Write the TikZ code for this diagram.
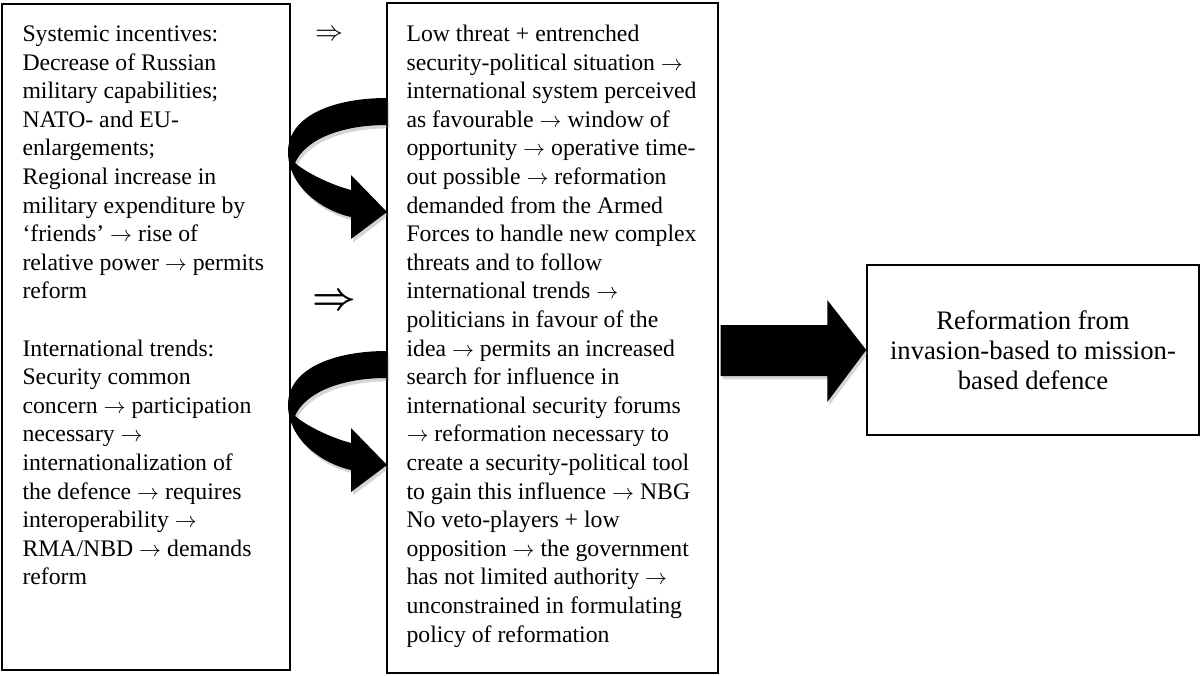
\RequirePackage{fix-cm}
\documentclass[tikz,border=0pt]{standalone}
\usepackage{fontspec}
\setmainfont{Liberation Serif}
\usetikzlibrary{positioning,calc,shadows}
\tikzset{>=latex}
\colorlet{shadowgrey}{black!55}
\tikzstyle{box}=[draw, line width=1.1pt, inner sep=0pt]
\newcommand{\ra}{{\fontsize{16.5}{16.5}\selectfont$\rightarrow$}}

\begin{document}
\begin{tikzpicture}[x=0.75pt, y=-0.75pt, txt/.style={inner sep=0pt, align=left, anchor=north west, font=\fontsize{17.8}{21.45}\selectfont}, blockarrow/.style={fill=black, drop shadow={shadow xshift=1.5pt, shadow yshift=-2.5pt, opacity=0.3, fill=shadowgrey}}, imply/.style={inner sep=0pt}]

    \useasboundingbox (0,0) rectangle (1203,675);

    % Boxes
    \node[box, minimum width=216pt, minimum height=499.5pt] (sys) at (146,337) {};
    \node[box, minimum width=248.25pt, minimum height=502.5pt] (mid) at (552.5,338) {};
    \node[box, minimum width=249pt, minimum height=127.5pt, align=center, font=\fontsize{20}{22.5}\selectfont] (res) at (1033,350) {Reformation from\\invasion-based to mission-\\based defence};

    % Texts
    \node[txt] (systxt) at ($(sys.north west)+(21,18)$) {\strut Systemic incentives:\\Decrease of Russian\\military capabilities;\\NATO- and EU-\\enlargements;\\Regional increase in\\military expenditure by\\‘friends’ \ra{} rise of\\relative power \ra{} permits\\reform\\[\baselineskip]International trends:\\Security common\\concern \ra{} participation\\necessary \ra\\internationalization of\\the defence \ra{} requires\\interoperability \ra\\RMA/NBD \ra{} demands\\reform};

    \node[txt] (midtxt) at ($(mid.north west)+(20,19)$) {\strut Low threat + entrenched\\security-political situation \ra\\international system perceived\\as favourable \ra{} window of\\opportunity \ra{} operative time-\\out possible \ra{} reformation\\demanded from the Armed\\Forces to handle new complex\\threats and to follow\\international trends \ra\\politicians in favour of the\\idea \ra{} permits an increased\\search for influence in\\international security forums\\\ra{} reformation necessary to\\create a security-political tool\\to gain this influence \ra{} NBG\\No veto-players + low\\opposition \ra{} the government\\has not limited authority \ra\\unconstrained in formulating\\policy of reformation};

    \node[imply, font=\fontsize{21}{21}\selectfont] (imp1) at (329,35) {$\Rightarrow$};
    \node[imply, font=\fontsize{28.5}{28.5}\selectfont\boldmath] (imp2) at (334,302) {$\Rightarrow$};

    % Curved arrows
    \foreach \dy in {0,253} {
    \begin{scope}[shift={(0,\dy)}]
    \fill[blockarrow] (387,98) .. controls (335,98) and (288,115) .. (288,152)
        .. controls (288,185) and (320,210) .. (351,217)
        -- (351,239) -- (387,212) -- (351,175) -- (351,190)
        .. controls (325,183) and (303,170) .. (295,163)
        .. controls (305,140) and (340,125) .. (387,125) -- cycle;
    \end{scope}
    }

    % Block arrow
    \coordinate (tip) at (res.west);
    \fill[blockarrow] ($(mid.east |- tip)+(2,-25)$) -- ($(tip)+(-39,-25)$) -- ($(tip)+(-39,-50)$) -- (tip)
        -- ($(tip)+(-39,52)$) -- ($(tip)+(-39,26)$) -- ($(mid.east |- tip)+(2,26)$) -- cycle;
\end{tikzpicture}
\end{document}
